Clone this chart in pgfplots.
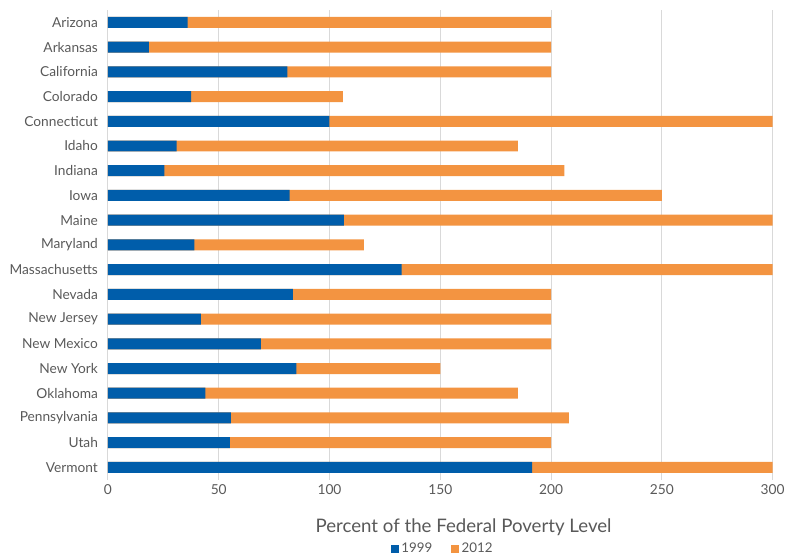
\documentclass[border=0pt]{standalone}
\usepackage{pgfplots}
\pgfplotsset{compat=1.18}
\usepackage{fontspec}
\setmainfont{Lato}
\definecolor{blue99}{HTML}{005DAA}
\definecolor{orange12}{HTML}{F39441}
\definecolor{txt}{HTML}{595959}
\definecolor{gridc}{HTML}{D9D9D9}

\pgfplotstableread{
idx v1999 v2012
0  36   200
1  18.5 200
2  81   200
3  37.5 106
4  100  300
5  31   185
6  25.5 206
7  82   250
8  106.5 300
9  39   115.5
10 132.5 300
11 83.5 200
12 42   200
13 69   200
14 85   150
15 44   185
16 55.5 208
17 55   200
18 191.5 300
}\data

\begin{document}
\begin{tikzpicture}
\begin{axis}[
  scale only axis,
  width=498.75pt, height=352.5pt,
  xbar, bar shift=0pt, bar width=8.25pt,
  xmin=0, xmax=300,
  ymin=-0.5, ymax=18.5,
  y dir=reverse,
  xtick={0,50,...,300},
  ytick={0,...,18},
  yticklabels={Arizona,Arkansas,California,Colorado,Connecticut,Idaho,Indiana,Iowa,Maine,Maryland,Massachusetts,Nevada,New Jersey,New Mexico,New York,Oklahoma,Pennsylvania,Utah,Vermont},
  /pgf/number format/assume math mode=true,
  ticklabel style={font=\fontsize{10.3pt}{12pt}\selectfont, text=txt},
  yticklabel style={xshift=-4pt},
  major tick length=0pt,
  axis line style={draw=none},
  xmajorgrids, grid style={gridc, line width=0.75pt},
  clip=false,
  xlabel={Percent of the Federal Poverty Level},
  xlabel style={font=\fontsize{14pt}{16pt}\selectfont, text=txt, at={(rel axis cs:0.535,-0.1)}, anchor=center},
  legend style={at={(rel axis cs:0.504,-0.147)}, anchor=center, draw=none, fill=none,
    legend columns=2, font=\fontsize{10pt}{11pt}\selectfont, text=txt,
    /tikz/every even column/.append style={column sep=12pt}},
  legend image code/.code={\fill[#1] (0pt,-3pt) rectangle (6pt,3pt);},
]
\addlegendimage{fill=blue99, draw=none}
\addlegendentry{1999}
\addlegendimage{fill=orange12, draw=none}
\addlegendentry{2012}
\addplot[fill=orange12, draw=none, forget plot] table[x=v2012, y=idx] {\data};
\addplot[fill=blue99, draw=none, forget plot] table[x=v1999, y=idx] {\data};
\path (rel axis cs:-0.1624,-0.166) rectangle (rel axis cs:1.0241,1.0213);
\end{axis}
\end{tikzpicture}
\end{document}
